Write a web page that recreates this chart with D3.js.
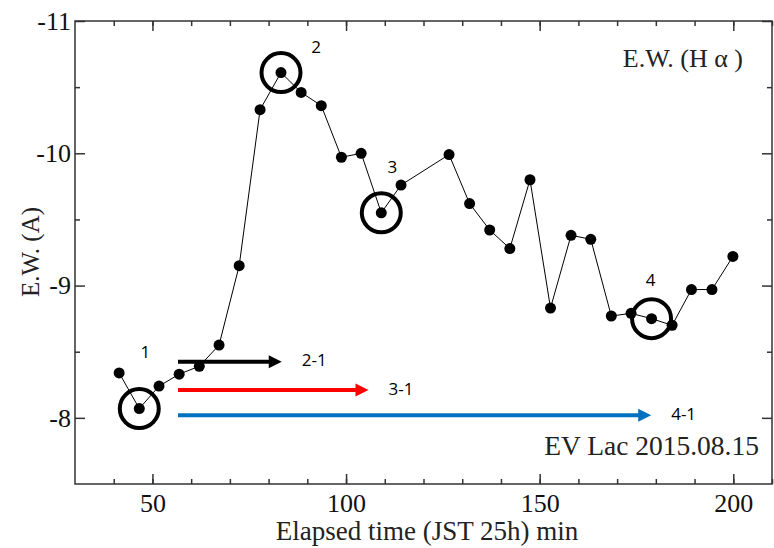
<!doctype html>
<html lang="en">
<head>
<meta charset="utf-8">
<title>E.W. (H alpha) - EV Lac 2015.08.15</title>
<style>
  body { margin: 0; background: #fff; }
  .serif { font-family: "Liberation Serif", "Times New Roman", serif; }
  .note { font-family: "Open Sans", "Noto Sans", sans-serif; font-size: 17px; }
</style>
<script src="https://d3js.org/d3.v7.min.js"></script>
</head>
<body>
<div id="chart"></div>
<script>
// elapsed time (min) and equivalent width (A)
var times = [41.4, 46.6, 51.7, 56.9, 62.1, 67.2, 72.4, 77.8, 83.2, 88.4,
             93.6, 98.8, 103.9, 109.1, 114.2, 126.6, 131.9, 137.1, 142.3, 147.5,
             152.8, 158.1, 163.2, 168.5, 173.6, 178.9, 184.2, 189.2, 194.5, 199.9];
var ew = [-8.34, -8.07, -8.24, -8.33, -8.39, -8.55, -9.15, -10.33, -10.61, -10.46,
          -10.36, -9.97, -10.0, -9.55, -9.76, -9.99, -9.62, -9.42, -9.28, -9.80,
          -8.83, -9.38, -9.35, -8.77, -8.79, -8.75, -8.70, -8.97, -8.97, -9.22];

// circled points and their labels
var markedIdx = [1, 8, 13, 25];
var markedLabels = ["1", "2", "3", "4"];

// arrows: start time, end time, level, colour, label
var arrowStart = [56.6, 56.6, 56.6];
var arrowEnd = [83.4, 105.8, 178.8];
var arrowLevel = [-8.425, -8.21, -8.02];
var arrowColor = ["#000000", "#ff0000", "#0070c0"];
var arrowLabel = ["2-1", "3-1", "4-1"];

var xMajor = [50, 100, 150, 200];
var xMinor = d3.range(40, 211, 10);
var yMajor = [-11, -10, -9, -8];
var yMinor = [-10.5, -9.5, -8.5];

var W = 774, H = 548;
var margin = {top: 21, right: 2, bottom: 64, left: 75};

var svg = d3.select("#chart").append("svg")
  .attr("width", W)
  .attr("height", H);

var x = d3.scaleLinear().domain([30, 210]).range([margin.left, W - margin.right]);
var y = d3.scaleLinear().domain([-7.5, -11]).range([H - margin.bottom, margin.top]);

var x0 = x.range()[0], x1 = x.range()[1];
var y0 = y.range()[0], y1 = y.range()[1];

// axes, ticks pointing inward
function addAxis(axis, tx, ty) {
  var g = svg.append("g")
    .attr("transform", "translate(" + tx + "," + ty + ")")
    .call(axis);
  g.select(".domain").remove();
  g.selectAll("line").attr("stroke", "#333").attr("stroke-width", 1.5);
  g.selectAll("text").attr("class", "serif").attr("font-size", 26).attr("fill", "#111");
  return g;
}

addAxis(d3.axisBottom(x).tickValues(xMajor).tickSize(-10).tickPadding(10)
  .tickFormat(function(d) { return d; }), 0, y0);
addAxis(d3.axisBottom(x).tickValues(xMinor).tickSize(-5).tickFormat(""), 0, y0);
addAxis(d3.axisTop(x).tickValues(xMajor).tickSize(-10).tickFormat(""), 0, y1);
addAxis(d3.axisTop(x).tickValues(xMinor).tickSize(-5).tickFormat(""), 0, y1);

addAxis(d3.axisLeft(y).tickValues(yMajor).tickSize(-10).tickPadding(4)
  .tickFormat(function(d) { return String(d); }), x0, 0);
addAxis(d3.axisLeft(y).tickValues(yMinor).tickSize(-5).tickFormat(""), x0, 0);
addAxis(d3.axisRight(y).tickValues(yMajor).tickSize(-10).tickFormat(""), x1, 0);
addAxis(d3.axisRight(y).tickValues(yMinor).tickSize(-5).tickFormat(""), x1, 0);

// frame
svg.append("rect")
  .attr("x", x0).attr("y", y1)
  .attr("width", x1 - x0).attr("height", y0 - y1)
  .attr("fill", "none")
  .attr("stroke", "#333")
  .attr("stroke-width", 1.5);

// axis titles
svg.append("text")
  .attr("class", "serif")
  .attr("x", 427)
  .attr("y", 540)
  .attr("text-anchor", "middle")
  .attr("font-size", 27)
  .attr("fill", "#222")
  .text("Elapsed time (JST 25h) min");

svg.append("text")
  .attr("class", "serif")
  .attr("transform", "translate(39,252) rotate(-90)")
  .attr("text-anchor", "middle")
  .attr("font-size", 25)
  .attr("fill", "#222")
  .text("E.W. (A)");

// line and points
var pts = times.map(function(t, i) { return {t: t, v: ew[i]}; });

var line = d3.line()
  .x(function(d) { return x(d.t); })
  .y(function(d) { return y(d.v); });

svg.append("path")
  .datum(pts)
  .attr("d", line)
  .attr("fill", "none")
  .attr("stroke", "#000")
  .attr("stroke-width", 1);

svg.selectAll("circle.pt")
  .data(pts)
  .enter()
  .append("circle")
  .attr("class", "pt")
  .attr("cx", function(d) { return x(d.t); })
  .attr("cy", function(d) { return y(d.v); })
  .attr("r", 5.5)
  .attr("fill", "#000");

// rings round the marked spectra
svg.selectAll("circle.ring")
  .data(markedIdx)
  .enter()
  .append("circle")
  .attr("class", "ring")
  .attr("cx", function(i) { return x(times[i]); })
  .attr("cy", function(i) { return y(ew[i]); })
  .attr("r", 19.5)
  .attr("fill", "none")
  .attr("stroke", "#000")
  .attr("stroke-width", 4);

var labelOffset = [[6, -55], [35, -24], [11, -44], [-1, -37]];
svg.selectAll("text.mark")
  .data(markedIdx)
  .enter()
  .append("text")
  .attr("class", "note")
  .attr("x", function(i, k) { return x(times[i]) + labelOffset[k][0]; })
  .attr("y", function(i, k) { return y(ew[i]) + labelOffset[k][1]; })
  .attr("text-anchor", "middle")
  .attr("dominant-baseline", "middle")
  .text(function(i, k) { return markedLabels[k]; });

// arrows
arrowStart.forEach(function(s, k) {
  var xs = x(s), xe = x(arrowEnd[k]), yy = y(arrowLevel[k]);
  svg.append("line")
    .attr("x1", xs).attr("x2", xe - 12)
    .attr("y1", yy).attr("y2", yy)
    .attr("stroke", arrowColor[k])
    .attr("stroke-width", 4);
  svg.append("path")
    .attr("d", "M" + xe + "," + yy + "L" + (xe - 13) + "," + (yy - 6.5) + "L" + (xe - 13) + "," + (yy + 6.5) + "Z")
    .attr("fill", arrowColor[k]);
  svg.append("text")
    .attr("class", "note")
    .attr("x", xe + 20)
    .attr("y", yy)
    .attr("dominant-baseline", "middle")
    .text(arrowLabel[k]);
});

// legends
svg.append("text")
  .attr("class", "serif")
  .attr("x", 759)
  .attr("y", 455)
  .attr("text-anchor", "end")
  .attr("font-size", 27.5)
  .attr("fill", "#222")
  .text("EV Lac 2015.08.15");

svg.append("text")
  .attr("class", "serif")
  .attr("x", 743)
  .attr("y", 67)
  .attr("text-anchor", "end")
  .attr("font-size", 26)
  .attr("fill", "#222")
  .text("E.W. (H \u03b1 )");
</script>
</body>
</html>
